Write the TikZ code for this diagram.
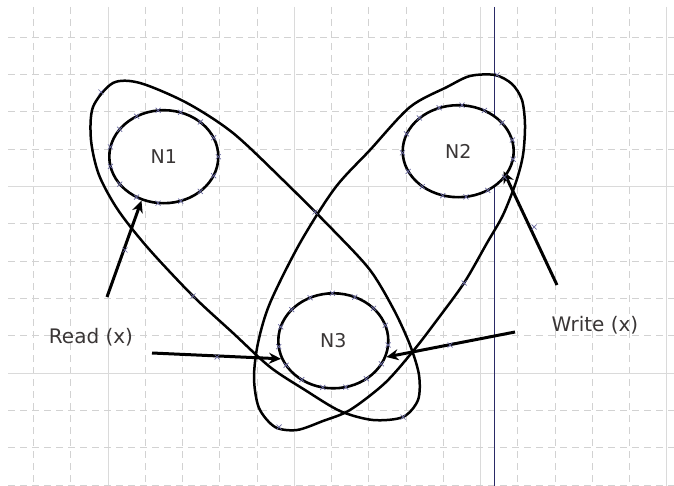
\documentclass[tikz,border=0pt]{standalone}
\usepackage{fontspec}
\newfontfamily\labfont{DejaVu Sans}
\usetikzlibrary{shapes.geometric,arrows.meta}
\definecolor{gridc}{HTML}{D2D2D2}
\definecolor{gridsolid}{HTML}{DADADA}
\definecolor{navyline}{HTML}{2A2A66}
\definecolor{crossc}{HTML}{6868A0}
\definecolor{txt}{HTML}{3A3636}
\begin{document}
\begin{tikzpicture}[x=1pt,y=-1pt,
  gridline/.style={gridc, line width=0.8pt, dash pattern=on 7pt off 5pt},
  gridsolidline/.style={gridsolid, line width=0.8pt},
  proc/.style={ellipse, draw=black, line width=2.6pt, inner sep=0pt,
    font=\labfont\fontsize{19}{22}\selectfont, text=txt},
  loopline/.style={black, line width=2.5pt, line join=round},
  arrowline/.style={black, line width=3pt, -{Stealth[length=12pt,width=11pt]}},
  lab/.style={font=\labfont\fontsize{20}{24}\selectfont, text=txt, inner sep=0pt},
  crossmark/.style={crossc, line width=0.7pt},
  xcross/.pic={\draw[crossmark] (-2.5,-2.5)--(2.5,2.5) (-2.5,2.5)--(2.5,-2.5);}
]
\fill[white] (0,0) rectangle (674,486);
\useasboundingbox (0,0) rectangle (674,486);
% grid
\foreach \k in {0,1,3,4,5,6,8,9,10,11,13,14,15,16}
  \draw[gridline] ({33.5+37.25*\k},7) -- ({33.5+37.25*\k},486);
\foreach \k in {2,7,12,17}
  \draw[gridsolidline] ({33.5+37.25*\k},7) -- ({33.5+37.25*\k},486);
\foreach \k in {1,2,3,4,6,7,8,9,11,12,13}
  \draw[gridline] (8,{37.3*\k}) -- (674,{37.3*\k});
\foreach \k in {5,10}
  \draw[gridsolidline] (8,{37.3*\k}) -- (674,{37.3*\k});
% blue vertical rule
\draw[navyline, line width=1.6pt] (494.5,7) -- (494.5,486);
% loops
\draw[loopline] plot[smooth cycle, tension=0.5] coordinates {
  (113,83) (140,83) (187,103) (233,133) (283,180) (333,230) (370,270)
  (394,310) (410,345) (419,375) (418,400) (403,417) (373,420) (340,411)
  (305,390) (270,367) (233,333) (193,296) (148,248) (118,210) (99,175)
  (91,140) (93,107)};
\draw[loopline] plot[smooth cycle, tension=0.5] coordinates {
  (470,76) (495,75) (512,84) (522,100) (525,125) (523,155) (516,182)
  (503,215) (487,243) (464,283) (437,320) (414,350) (385,383) (350,410)
  (323,421) (297,430) (275,427) (259,408) (254,378) (258,343) (270,303)
  (300,243) (335,188) (370,150) (410,107) (447,87)};
% process ellipses
\node[proc, fill=white, minimum width=109pt, minimum height=93pt] (n1) at (163.8,156.7) {N1};
\node[proc, fill=white, minimum width=111pt, minimum height=92pt] (n2) at (458.2,151.2) {N2};
\node[proc, fill=white, minimum width=110pt, minimum height=95pt] (n3) at (333.3,340.8) {N3};
% labels
\node[lab] (read) at (91,337) {Read (x)};
\node[lab] (write) at (595,325) {Write (x)};
% arrows
\coordinate (ra) at (107,297);
\coordinate (rb) at (152,353);
\coordinate (wc) at (557,285);
\coordinate (wd) at (515,332);
\draw[arrowline] (ra) -- (n1.243);
\draw[arrowline] (rb) -- (n3.199);
\draw[arrowline, shorten >=-6pt] (wc) -- (n2.332);
\draw[arrowline] (wd) -- (n3.343);
% small cross marks
\foreach \a in {0,24,...,336}{
  \path ({163.8+54.5*cos(\a)},{156.7+46.7*sin(\a)}) pic{xcross};
  \path ({458.2+55.8*cos(\a+10)},{151.2+46.2*sin(\a+10)}) pic{xcross};
  \path ({333.3+55*cos(\a+5)},{340.8+47.5*sin(\a+5)}) pic{xcross};
}
\foreach \p in {(101,92),(315,212),(193,296),(403,417),(497,75),(464,283),(279,427),(217,357),(450,345),(125,250),(534,227)}
  \path \p pic{xcross};
\end{tikzpicture}
\end{document}
